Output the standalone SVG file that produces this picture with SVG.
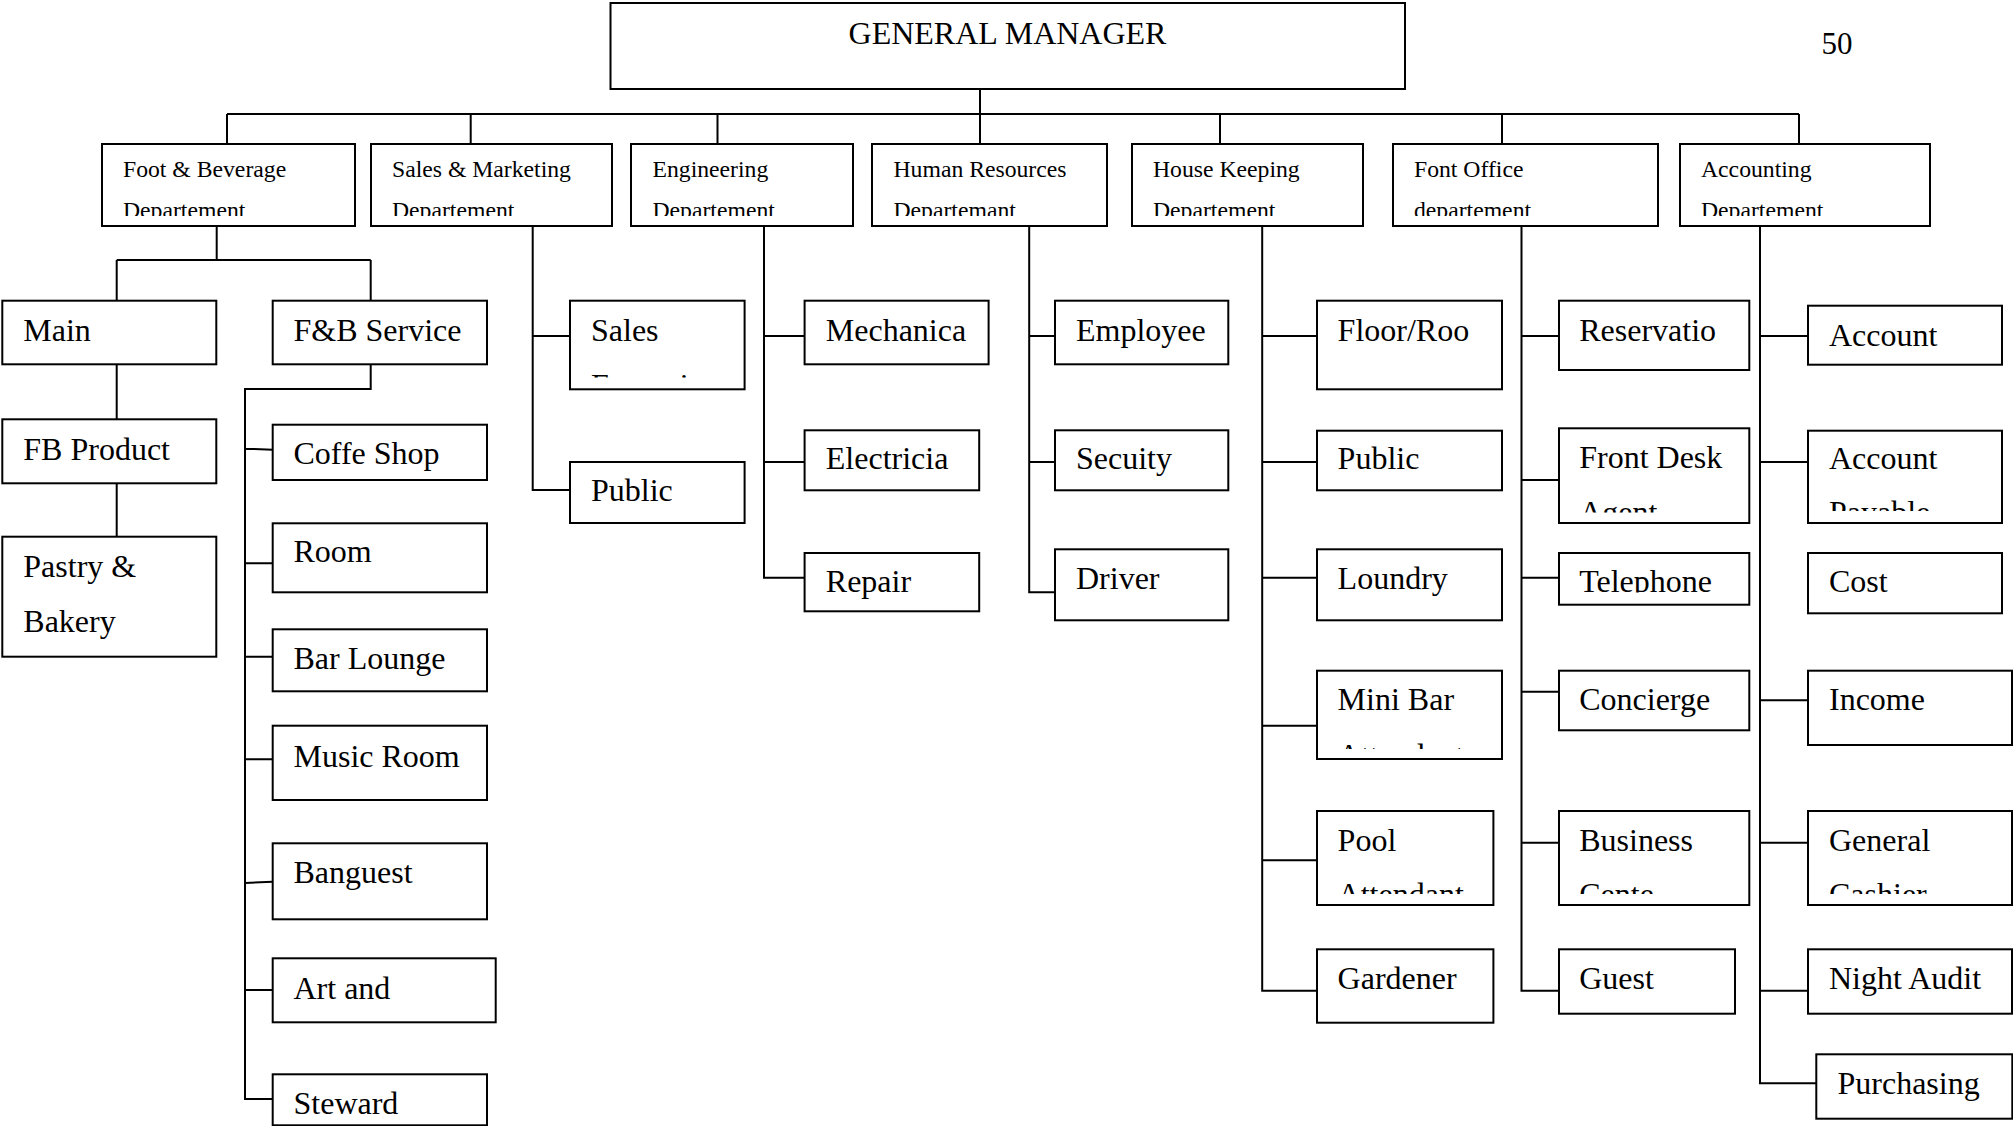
<svg xmlns="http://www.w3.org/2000/svg" width="2013" height="1126" viewBox="0 0 2013 1126">
<style>
.box{fill:#fff;stroke:#000;stroke-width:2}
.c{fill:none;stroke:#000;stroke-width:2}
text{font-family:"Liberation Serif","Times New Roman",serif;fill:#000}
.t{font-size:32px}
.d{font-size:23.7px}
.g{font-size:32px}
.n{font-size:31px}
</style>
<defs>
<clipPath id="cpFB" clipPathUnits="userSpaceOnUse"><rect x="102" y="144" width="253" height="72"/></clipPath>
<clipPath id="cpSM" clipPathUnits="userSpaceOnUse"><rect x="371" y="144" width="241" height="72"/></clipPath>
<clipPath id="cpEN" clipPathUnits="userSpaceOnUse"><rect x="631" y="144" width="222" height="72"/></clipPath>
<clipPath id="cpHR" clipPathUnits="userSpaceOnUse"><rect x="872" y="144" width="235" height="72"/></clipPath>
<clipPath id="cpHK" clipPathUnits="userSpaceOnUse"><rect x="1132" y="144" width="231" height="72"/></clipPath>
<clipPath id="cpFO" clipPathUnits="userSpaceOnUse"><rect x="1393" y="144" width="265" height="72"/></clipPath>
<clipPath id="cpAC" clipPathUnits="userSpaceOnUse"><rect x="1680" y="144" width="250" height="72"/></clipPath>
<clipPath id="cpSE" clipPathUnits="userSpaceOnUse"><rect x="570" y="301" width="175" height="76.5"/></clipPath>
<clipPath id="cpFD" clipPathUnits="userSpaceOnUse"><rect x="1559" y="428" width="190" height="84.5"/></clipPath>
<clipPath id="cpTE" clipPathUnits="userSpaceOnUse"><rect x="1559" y="553" width="190" height="39.5"/></clipPath>
<clipPath id="cpAP" clipPathUnits="userSpaceOnUse"><rect x="1808" y="431" width="194" height="80"/></clipPath>
<clipPath id="cpMB" clipPathUnits="userSpaceOnUse"><rect x="1317" y="671" width="185" height="78"/></clipPath>
<clipPath id="cpPO" clipPathUnits="userSpaceOnUse"><rect x="1317" y="811" width="176" height="83"/></clipPath>
<clipPath id="cpBC" clipPathUnits="userSpaceOnUse"><rect x="1559" y="811" width="190" height="83"/></clipPath>
<clipPath id="cpGC" clipPathUnits="userSpaceOnUse"><rect x="1808" y="811" width="204" height="83"/></clipPath>
</defs>

<g id="connectors">
<path class="c" d="M980,89V114M227,114H1799M227,114V144M470.7,114V144M717.5,114V144M980,114V144M1220,114V144M1502,114V144M1799,114V144"/>
<path class="c" d="M216.7,226V260M116.7,260H370.7M116.7,260V300.7M370.7,260V300.7M116.7,364.3V419.3M116.7,483.3V536.7"/>
<path class="c" d="M370.7,364.3V389H245V1099H272.7M245,448.7L272.7,449.7M245,563.3H272.7M245,656.7H272.7M245,759.3H272.7M245,883L272.7,881.7M245,990H272.7"/>
<path class="c" d="M532.7,226V490H570M532.7,336H570"/>
<path class="c" d="M764,226V577.7H804.6M764,336H804.6M764,462H804.6"/>
<path class="c" d="M1029.2,226V592.3H1055M1029.2,336H1055M1029.2,462H1055"/>
<path class="c" d="M1262.2,226V990.7H1317M1262.2,336H1317M1262.2,462H1317M1262.2,577.7H1317M1262.2,725.7H1317M1262.2,860.3H1317"/>
<path class="c" d="M1521.5,226V990.7H1559M1521.5,336H1559M1521.5,480H1559M1521.5,577.7H1559M1521.5,691.7H1559M1521.5,842.7H1559"/>
<path class="c" d="M1760,226V1083.3H1816.3M1760,336H1808M1760,462H1808M1760,700.3H1808M1760,842.7H1808M1760,990.7H1808"/>
</g>

<text class="n" x="1821.5" y="54">50</text>

<g id="gm">
<rect class="box" x="610.5" y="3" width="794.5" height="86"/>
<text class="g" x="1007.5" y="44" text-anchor="middle">GENERAL MANAGER</text>
</g>

<g id="dept-fb">
<rect class="box" x="102" y="144" width="253" height="82"/>
<g clip-path="url(#cpFB)"><text class="d" x="123" y="177">Foot &amp; Beverage</text><text class="d" x="123" y="218">Departement</text></g>
</g>
<g id="dept-sales">
<rect class="box" x="371" y="144" width="241" height="82"/>
<g clip-path="url(#cpSM)"><text class="d" x="392" y="177">Sales &amp; Marketing</text><text class="d" x="392" y="218">Departement</text></g>
</g>
<g id="dept-eng">
<rect class="box" x="631" y="144" width="222" height="82"/>
<g clip-path="url(#cpEN)"><text class="d" x="652.5" y="177">Engineering</text><text class="d" x="652.5" y="218">Departement</text></g>
</g>
<g id="dept-hr">
<rect class="box" x="872" y="144" width="235" height="82"/>
<g clip-path="url(#cpHR)"><text class="d" x="893.5" y="177">Human Resources</text><text class="d" x="893.5" y="218">Departemant</text></g>
</g>
<g id="dept-hk">
<rect class="box" x="1132" y="144" width="231" height="82"/>
<g clip-path="url(#cpHK)"><text class="d" x="1153" y="177">House Keeping</text><text class="d" x="1153" y="218">Departement</text></g>
</g>
<g id="dept-fo">
<rect class="box" x="1393" y="144" width="265" height="82"/>
<g clip-path="url(#cpFO)"><text class="d" x="1414" y="177">Font Office</text><text class="d" x="1414" y="218">departement</text></g>
</g>
<g id="dept-acc">
<rect class="box" x="1680" y="144" width="250" height="82"/>
<g clip-path="url(#cpAC)"><text class="d" x="1701" y="177">Accounting</text><text class="d" x="1701" y="218">Departement</text></g>
</g>

<g id="main"><rect class="box" x="2.3" y="300.7" width="214" height="63.6"/><text class="t" x="23.3" y="340.5">Main</text></g>
<g id="fb-product"><rect class="box" x="2.3" y="419.3" width="214" height="64"/><text class="t" x="23.3" y="460">FB Product</text></g>
<g id="pastry"><rect class="box" x="2.3" y="536.7" width="214" height="120"/><text class="t" x="23.3" y="577">Pastry &amp;</text><text class="t" x="23.3" y="632">Bakery</text></g>

<g id="fb-service"><rect class="box" x="272.7" y="300.7" width="214.3" height="63.6"/><text class="t" x="293.5" y="340.5">F&amp;B Service</text></g>
<g id="coffe-shop"><rect class="box" x="272.7" y="424.7" width="214.3" height="55.3"/><text class="t" x="293.5" y="464">Coffe Shop</text></g>
<g id="room"><rect class="box" x="272.7" y="523.3" width="214.3" height="69"/><text class="t" x="293.5" y="562.3">Room</text></g>
<g id="bar-lounge"><rect class="box" x="272.7" y="629.3" width="214.3" height="62"/><text class="t" x="293.5" y="669">Bar Lounge</text></g>
<g id="music-room"><rect class="box" x="272.7" y="725.7" width="214.3" height="74.3"/><text class="t" x="293.5" y="766.5">Music Room</text></g>
<g id="banguest"><rect class="box" x="272.7" y="843.3" width="214.3" height="76"/><text class="t" x="293.5" y="882.5">Banguest</text></g>
<g id="art-and"><rect class="box" x="272.7" y="958.3" width="223" height="64"/><text class="t" x="293.5" y="999">Art and</text></g>
<g id="steward"><rect class="box" x="272.7" y="1074.3" width="214.3" height="51"/><text class="t" x="293.5" y="1114">Steward</text></g>

<g id="sales-exec"><rect class="box" x="570" y="300.7" width="174.6" height="88.6"/><g clip-path="url(#cpSE)"><text class="t" x="591" y="340.5">Sales</text><text class="t" x="591" y="396">Executive</text></g></g>
<g id="sales-public"><rect class="box" x="570" y="462" width="174.6" height="61"/><text class="t" x="591" y="501.3">Public</text></g>

<g id="mechanica"><rect class="box" x="804.6" y="300.7" width="184" height="63.6"/><text class="t" x="825.8" y="340.5">Mechanica</text></g>
<g id="electricia"><rect class="box" x="804.6" y="430.3" width="174.6" height="60"/><text class="t" x="825.8" y="469">Electricia</text></g>
<g id="repair"><rect class="box" x="804.6" y="553" width="174.6" height="58.3"/><text class="t" x="825.8" y="592.3">Repair</text></g>

<g id="employee"><rect class="box" x="1055" y="300.7" width="173.3" height="63.6"/><text class="t" x="1076" y="340.5">Employee</text></g>
<g id="secuity"><rect class="box" x="1055" y="430.3" width="173.3" height="60"/><text class="t" x="1076" y="469">Secuity</text></g>
<g id="driver"><rect class="box" x="1055" y="549.3" width="173.3" height="71"/><text class="t" x="1076" y="589">Driver</text></g>

<g id="floor-room"><rect class="box" x="1317" y="300.7" width="185" height="88.6"/><text class="t" x="1337.6" y="340.5">Floor/Roo</text></g>
<g id="hk-public"><rect class="box" x="1317" y="430.7" width="185" height="59.6"/><text class="t" x="1337.6" y="469">Public</text></g>
<g id="loundry"><rect class="box" x="1317" y="549.3" width="185" height="71"/><text class="t" x="1337.6" y="589">Loundry</text></g>
<g id="mini-bar"><rect class="box" x="1317" y="670.7" width="185" height="88.3"/><g clip-path="url(#cpMB)"><text class="t" x="1337.6" y="710">Mini Bar</text><text class="t" x="1337.6" y="766">Attendant</text></g></g>
<g id="pool"><rect class="box" x="1317" y="811" width="176.4" height="94"/><g clip-path="url(#cpPO)"><text class="t" x="1337.6" y="850.5">Pool</text><text class="t" x="1337.6" y="905">Attendant</text></g></g>
<g id="gardener"><rect class="box" x="1317" y="949.3" width="176.4" height="73.4"/><text class="t" x="1337.6" y="989">Gardener</text></g>

<g id="reservation"><rect class="box" x="1559" y="300.7" width="190.3" height="69.3"/><text class="t" x="1579.2" y="340.5">Reservatio</text></g>
<g id="front-desk"><rect class="box" x="1559" y="428.3" width="190.3" height="94.7"/><g clip-path="url(#cpFD)"><text class="t" x="1579.2" y="468">Front Desk</text><text class="t" x="1579.2" y="523">Agent</text></g></g>
<g id="telephone"><rect class="box" x="1559" y="553" width="190.3" height="51.7"/><g clip-path="url(#cpTE)"><text class="t" x="1579.2" y="592.3">Telephone</text></g></g>
<g id="concierge"><rect class="box" x="1559" y="670.7" width="190.3" height="59.6"/><text class="t" x="1579.2" y="710">Concierge</text></g>
<g id="business"><rect class="box" x="1559" y="811" width="190.3" height="94"/><g clip-path="url(#cpBC)"><text class="t" x="1579.2" y="850.5">Business</text><text class="t" x="1579.2" y="905">Cente</text></g></g>
<g id="guest"><rect class="box" x="1559" y="949.3" width="176" height="64.4"/><text class="t" x="1579.2" y="989">Guest</text></g>

<g id="account"><rect class="box" x="1808" y="305.7" width="194" height="59"/><text class="t" x="1829" y="345.5">Account</text></g>
<g id="account-payable"><rect class="box" x="1808" y="430.7" width="194" height="92.3"/><g clip-path="url(#cpAP)"><text class="t" x="1829" y="469">Account</text><text class="t" x="1829" y="523">Payable</text></g></g>
<g id="cost"><rect class="box" x="1808" y="553" width="194" height="60.3"/><text class="t" x="1829" y="592.3">Cost</text></g>
<g id="income"><rect class="box" x="1808" y="670.7" width="204" height="74.3"/><text class="t" x="1829" y="710">Income</text></g>
<g id="general-cashier"><rect class="box" x="1808" y="811" width="204" height="94"/><g clip-path="url(#cpGC)"><text class="t" x="1829" y="850.5">General</text><text class="t" x="1829" y="905">Cashier</text></g></g>
<g id="night-audit"><rect class="box" x="1808" y="949.3" width="204" height="64.4"/><text class="t" x="1829" y="989">Night Audit</text></g>
<g id="purchasing"><rect class="box" x="1816.3" y="1054.3" width="196" height="64.4"/><text class="t" x="1837.5" y="1094">Purchasing</text></g>
</svg>
